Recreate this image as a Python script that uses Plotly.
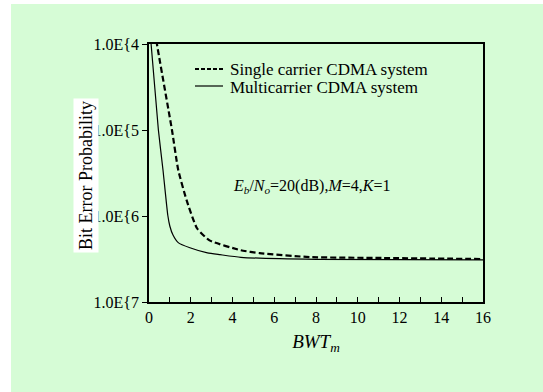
import plotly.graph_objects as go

# ---- data ----
series_names = ["Single carrier CDMA system", "Multicarrier CDMA system"]

single_x = [0.30, 0.38, 1.1, 1.4, 1.8, 2.3, 2.9, 4.4, 5.3, 7.7, 11.2, 16.0]
single_y = [1.4e-4, 1.0e-4, 1.0e-5, 3.43e-6, 1.53e-6, 7.2e-7, 5.2e-7, 4.0e-7, 3.7e-7, 3.33e-7, 3.25e-7, 3.16e-7]

multi_x = [0.05, 0.10, 0.45, 0.67, 0.90, 1.0, 1.15, 1.4, 1.96, 2.8, 3.4, 4.4, 8.0, 16.0]
multi_y = [1.25e-4, 1.0e-4, 1.0e-5, 3.43e-6, 1.02e-6, 7.6e-7, 6.0e-7, 4.9e-7, 4.27e-7,
           3.72e-7, 3.55e-7, 3.31e-7, 3.13e-7, 3.09e-7]

x_tick_vals = [0, 2, 4, 6, 8, 10, 12, 14, 16]
x_tick_text = ["0", "2", "4", "6", "8", "10", "12", "14", "16"]
y_tick_vals = [1e-4, 1e-5, 1e-6, 1e-7]
y_tick_text = ["1.0E{4", "1.0E{5", "1.0E{6", "1.0E{7"]

FONT = "Liberation Serif, Times New Roman, serif"
GREEN = "#d6fcd6"
dash_style = "6px,3px"

fig = go.Figure()
fig.add_trace(go.Scatter(x=single_x, y=single_y, mode="lines", name=series_names[0],
                         line=dict(color="black", width=2.2, dash=dash_style, shape="spline", smoothing=0.5)))
fig.add_trace(go.Scatter(x=multi_x, y=multi_y, mode="lines", name=series_names[1],
                         line=dict(color="black", width=1.2, shape="spline", smoothing=0.5)))

L, R, T, B = 149, 60, 44, 90
W, H = 543, 392
pw, ph = W - L - R, H - T - B

def px_x(p):
    return (p - L) / pw

def px_y(p):
    return (H - B - p) / ph

shapes = [dict(type="rect", xref="paper", yref="paper",
               x0=px_x(11), x1=px_x(W + 5), y0=px_y(H + 5), y1=px_y(4),
               fillcolor=GREEN, line=dict(width=0), layer="below")]
annotations = [
    dict(text="Bit Error Probability", xref="paper", yref="paper",
         x=px_x(73), y=px_y(176), textangle=-90, showarrow=False,
         font=dict(size=18, family=FONT), bgcolor="white", borderpad=2),
    dict(text="<i>E</i><sub><i>b</i></sub>/<i>N</i><sub><i>o</i></sub>=20(dB),<i>M</i>=4,<i>K</i>=1",
         xref="paper", yref="paper", x=px_x(312), y=px_y(186), showarrow=False,
         font=dict(size=16, family=FONT)),
]

# manual legend (compact, like the reference)
legend_rows = [(69, dict(color="black", width=2.0, dash="4px,2px")),
               (86, dict(color="black", width=1.2))]
for name, (yy, ln) in zip(series_names, legend_rows):
    shapes.append(dict(type="line", xref="paper", yref="paper",
                       x0=px_x(195), x1=px_x(223), y0=px_y(yy), y1=px_y(yy), line=ln))
    annotations.append(dict(text=name, xref="paper", yref="paper", x=px_x(228), y=px_y(yy + 1),
                            xanchor="left", yanchor="middle", showarrow=False,
                            font=dict(size=17, family=FONT)))

fig.update_layout(
    width=W, height=H,
    margin=dict(l=L, r=R, t=T, b=B, pad=0),
    paper_bgcolor="white",
    plot_bgcolor="white",
    font=dict(family=FONT, size=16, color="black"),
    showlegend=False,
    shapes=shapes,
    annotations=annotations,
)

fig.update_xaxes(range=[0, 16], tickvals=x_tick_vals, ticktext=x_tick_text,
                 ticks="inside", ticklen=5, tickwidth=1.2, tickcolor="black",
                 minor=dict(dtick=1, tick0=0, ticks="inside", ticklen=5, tickwidth=1.2, tickcolor="black", showgrid=False),
                 showline=True, linecolor="black", linewidth=1.5, mirror=True,
                 showgrid=False, zeroline=False,
                 tickfont=dict(size=16, family=FONT),
                 title=dict(text="<i>BWT</i><sub><i>m</i></sub>", font=dict(size=19, family=FONT), standoff=10))
fig.update_yaxes(type="log", range=[-7, -4], tickvals=y_tick_vals, ticktext=y_tick_text,
                 ticks="outside", ticklen=5, tickwidth=1.2, tickcolor="black",
                 showline=True, linecolor="black", linewidth=1.5, mirror=True,
                 showgrid=False, zeroline=False,
                 tickfont=dict(size=16, family=FONT))

fig.write_html("out.html")
